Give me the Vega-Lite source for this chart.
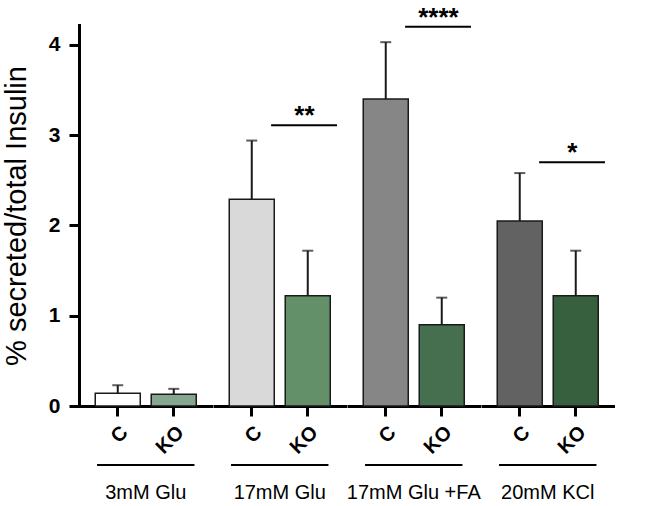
{
  "$schema": "https://vega.github.io/schema/vega-lite/v6.json",
  "padding": {"left": 2, "top": 4, "right": 5, "bottom": 0},
  "background": "white",
  "data": {"values": [
    {"group": "3mM Glu", "geno": "C", "bar": "3mM Glu C", "mean": 0.14, "upper": 0.23},
    {"group": "3mM Glu", "geno": "KO", "bar": "3mM Glu KO", "mean": 0.13, "upper": 0.19},
    {"group": "17mM Glu", "geno": "C", "bar": "17mM Glu C", "mean": 2.29, "upper": 2.94, "sig": "**", "bracket": 3.11},
    {"group": "17mM Glu", "geno": "KO", "bar": "17mM Glu KO", "mean": 1.22, "upper": 1.72},
    {"group": "17mM Glu +FA", "geno": "C", "bar": "17mM Glu +FA C", "mean": 3.40, "upper": 4.03, "sig": "****", "bracket": 4.20},
    {"group": "17mM Glu +FA", "geno": "KO", "bar": "17mM Glu +FA KO", "mean": 0.90, "upper": 1.20},
    {"group": "20mM KCl", "geno": "C", "bar": "20mM KCl C", "mean": 2.05, "upper": 2.58, "sig": "*", "bracket": 2.70},
    {"group": "20mM KCl", "geno": "KO", "bar": "20mM KCl KO", "mean": 1.22, "upper": 1.72}
  ]},
  "facet": {
    "column": {
      "field": "group", "type": "nominal",
      "sort": ["3mM Glu", "17mM Glu", "17mM Glu +FA", "20mM KCl"],
      "header": {"title": null, "labelOrient": "bottom", "labelFont": "Liberation Sans", "labelFontSize": 20, "labelColor": "black", "labelPadding": 26}
    }
  },
  "spacing": 0,
  "bounds": "flush",
  "spec": {
    "width": 133.5,
    "height": 381,
    "layer": [
      {
        "mark": {"type": "bar", "stroke": "#1a1a1a", "strokeWidth": 1.5},
        "encoding": {
          "x": {"field": "geno", "type": "nominal", "scale": {"domain": ["C", "KO"], "paddingInner": 0.196, "paddingOuter": 0.29},
                "axis": {"title": null, "labelAngle": -45, "labelPadding": 6, "labelFontSize": 20}},
          "y": {"field": "mean", "type": "quantitative", "scale": {"domain": [0, 4.22], "nice": false},
                "axis": {"title": "% secreted/total Insulin", "values": [0, 1, 2, 3, 4], "format": "d", "labelPadding": 9, "titlePadding": 17, "domainCap": "square"}},
          "color": {"field": "bar", "type": "nominal", "legend": null,
                    "scale": {"domain": ["3mM Glu C", "3mM Glu KO", "17mM Glu C", "17mM Glu KO", "17mM Glu +FA C", "17mM Glu +FA KO", "20mM KCl C", "20mM KCl KO"],
                              "range": ["#ffffff", "#86a78e", "#d9d9d9", "#639069", "#868686", "#456f4f", "#626262", "#37603f"]}}
        }
      },
      {
        "mark": {"type": "rule", "strokeWidth": 2, "color": "#1a1a1a"},
        "encoding": {
          "x": {"field": "geno", "type": "nominal"},
          "y": {"field": "mean", "type": "quantitative"},
          "y2": {"field": "upper"}
        }
      },
      {
        "mark": {"type": "tick", "orient": "horizontal", "size": 11, "thickness": 2, "color": "#1a1a1a"},
        "encoding": {
          "x": {"field": "geno", "type": "nominal"},
          "y": {"field": "upper", "type": "quantitative"}
        }
      },
      {
        "transform": [{"filter": "datum.geno == 'C'"}],
        "mark": {"type": "rule", "strokeWidth": 2, "color": "black"},
        "encoding": {
          "x": {"datum": "C", "bandPosition": 0.04},
          "x2": {"datum": "KO", "bandPosition": 0.96},
          "y": {"datum": -0.654}
        }
      },
      {
        "transform": [{"filter": "isValid(datum.sig)"}],
        "mark": {"type": "rule", "strokeWidth": 2, "color": "black"},
        "encoding": {
          "x": {"datum": "C", "bandPosition": 0.93},
          "x2": {"datum": "KO", "bandPosition": 1.15},
          "y": {"field": "bracket", "type": "quantitative"}
        }
      },
      {
        "transform": [{"filter": "isValid(datum.sig)"}],
        "mark": {"type": "text", "fontSize": 26, "fontWeight": "bold", "font": "Liberation Sans", "baseline": "alphabetic", "dy": -1, "color": "black"},
        "encoding": {
          "x": {"datum": "C", "bandPosition": 1.67},
          "y": {"field": "bracket", "type": "quantitative"},
          "text": {"field": "sig"}
        }
      }
    ]
  },
  "config": {
    "view": {"stroke": null},
    "axis": {"domainColor": "black", "tickColor": "black", "domainWidth": 3, "tickWidth": 3, "tickSize": 10, "grid": false,
             "labelFont": "Liberation Sans", "labelFontWeight": "bold", "labelFontSize": 21, "labelColor": "black",
             "titleFont": "Liberation Sans", "titleFontWeight": "normal", "titleFontSize": 29, "titleColor": "black"}
  }
}
